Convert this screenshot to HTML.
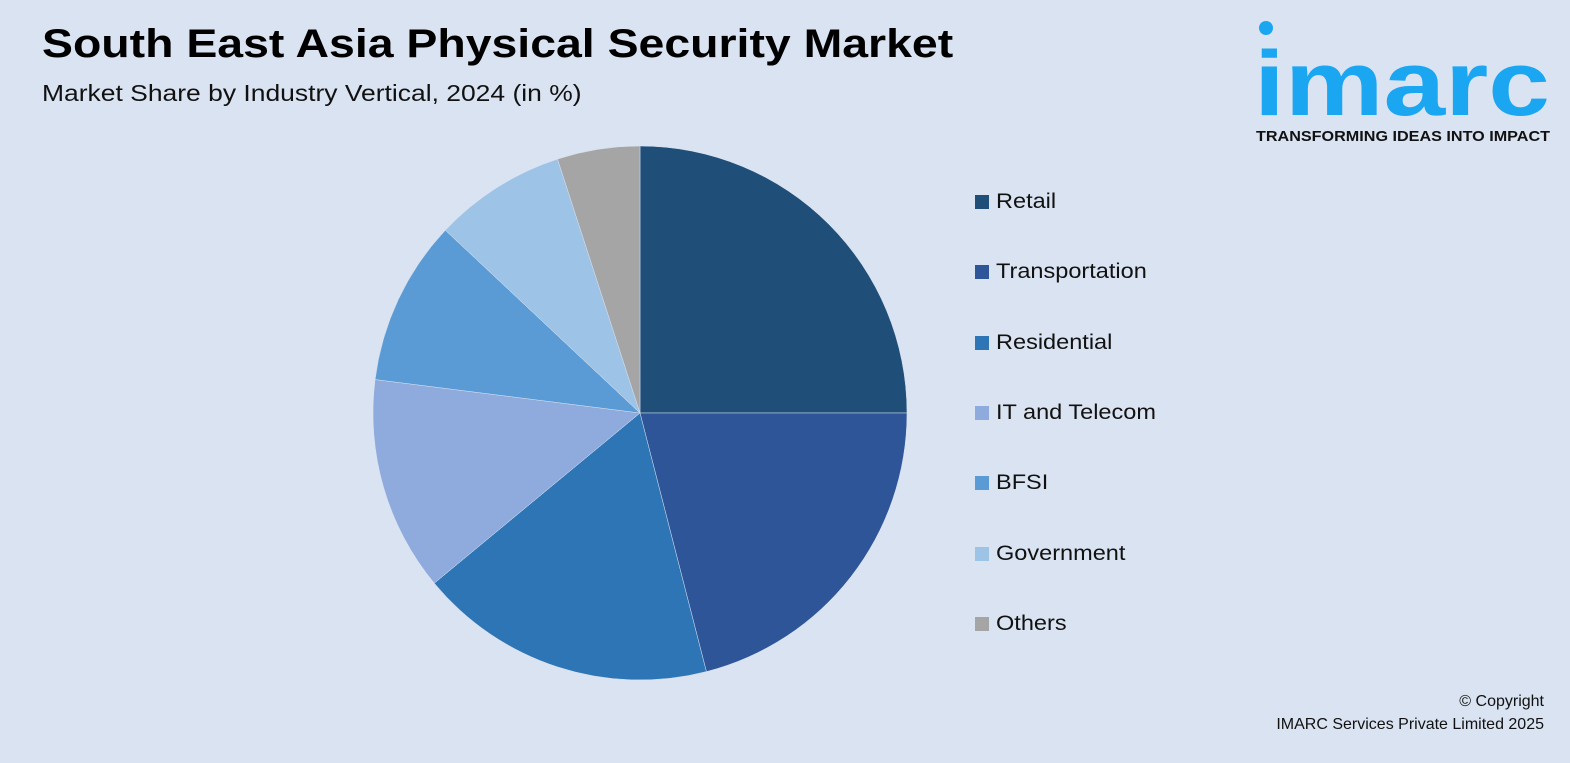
<!DOCTYPE html>
<html><head><meta charset="utf-8"><style>
body{margin:0;width:1570px;height:763px;background:#dae3f1;font-family:"Liberation Sans",sans-serif;overflow:hidden;position:relative}
.t{position:absolute;left:42px;top:22px;font-size:40px;font-weight:bold;color:#000;transform:scaleX(1.16);transform-origin:0 0;white-space:nowrap}
.s{position:absolute;left:42px;top:80px;font-size:23px;color:#111;transform:scaleX(1.15);transform-origin:0 0;white-space:nowrap}
.logo{position:absolute;left:1254px;top:20px}
.leg{position:absolute;left:975px;font-size:21px;color:#111;display:flex;align-items:center;white-space:nowrap}
.leg i{display:inline-block;width:14px;height:14px;margin-right:7px}
.leg span{display:inline-block;transform:scaleX(1.12);transform-origin:0 50%}
.c{position:absolute;right:26px;top:690px;text-align:right;font-size:16px;color:#111;line-height:23px}
</style></head><body>
<div class="t">South East Asia Physical Security Market</div>
<div class="s">Market Share by Industry Vertical, 2024 (in %)</div>
<div class="logo">
<svg width="300" height="130">
<circle cx="12" cy="8" r="7" fill="#1ba6f2"/>
<text x="0" y="95" font-family="Liberation Sans" font-weight="bold" font-size="92" fill="#1ba6f2" textLength="296" lengthAdjust="spacingAndGlyphs">imarc</text>
<text x="2" y="121" font-family="Liberation Sans" font-weight="bold" font-size="15" fill="#111" textLength="294" lengthAdjust="spacingAndGlyphs">TRANSFORMING IDEAS INTO IMPACT</text>
</svg></div>
<svg id="pie" width="1570" height="763" style="position:absolute;left:0;top:0"></svg>
<div id="legend"></div>
<div class="c">© Copyright<br>IMARC Services Private Limited 2025</div>
<script>
const categories=["Retail","Transportation","Residential","IT and Telecom","BFSI","Government","Others"];
const values=[25,21,18,13,10,8,5];
const colors=["#1f4e79","#2e5597","#2e75b6","#8faadc","#5b9bd5","#9dc3e6","#a5a5a5"];
const cx=640,cy=413,r=267;
const svg=document.getElementById('pie');
const tot=values.reduce((a,b)=>a+b,0);
let a0=0;
values.forEach((v,i)=>{
 const a1=a0+v/tot*2*Math.PI;
 const x0=cx+r*Math.sin(a0),y0=cy-r*Math.cos(a0),x1=cx+r*Math.sin(a1),y1=cy-r*Math.cos(a1);
 const p=document.createElementNS("http://www.w3.org/2000/svg","path");
 p.setAttribute('d',`M${cx},${cy}L${x0},${y0}A${r},${r} 0 ${a1-a0>Math.PI?1:0} 1 ${x1},${y1}Z`);
 p.setAttribute('fill',colors[i]);
 p.setAttribute('stroke','#dae3f1');p.setAttribute('stroke-width','0.5');
 
 
 svg.appendChild(p);a0=a1;
});
const lg=document.getElementById('legend');
categories.forEach((c,i)=>{
 const d=document.createElement('div');d.className='leg';d.style.top=(190+i*70.3)+'px';
 
 
 d.innerHTML=`<i style="background:${colors[i]}"></i><span>${c}</span>`;lg.appendChild(d);
});
</script>
</body></html>
